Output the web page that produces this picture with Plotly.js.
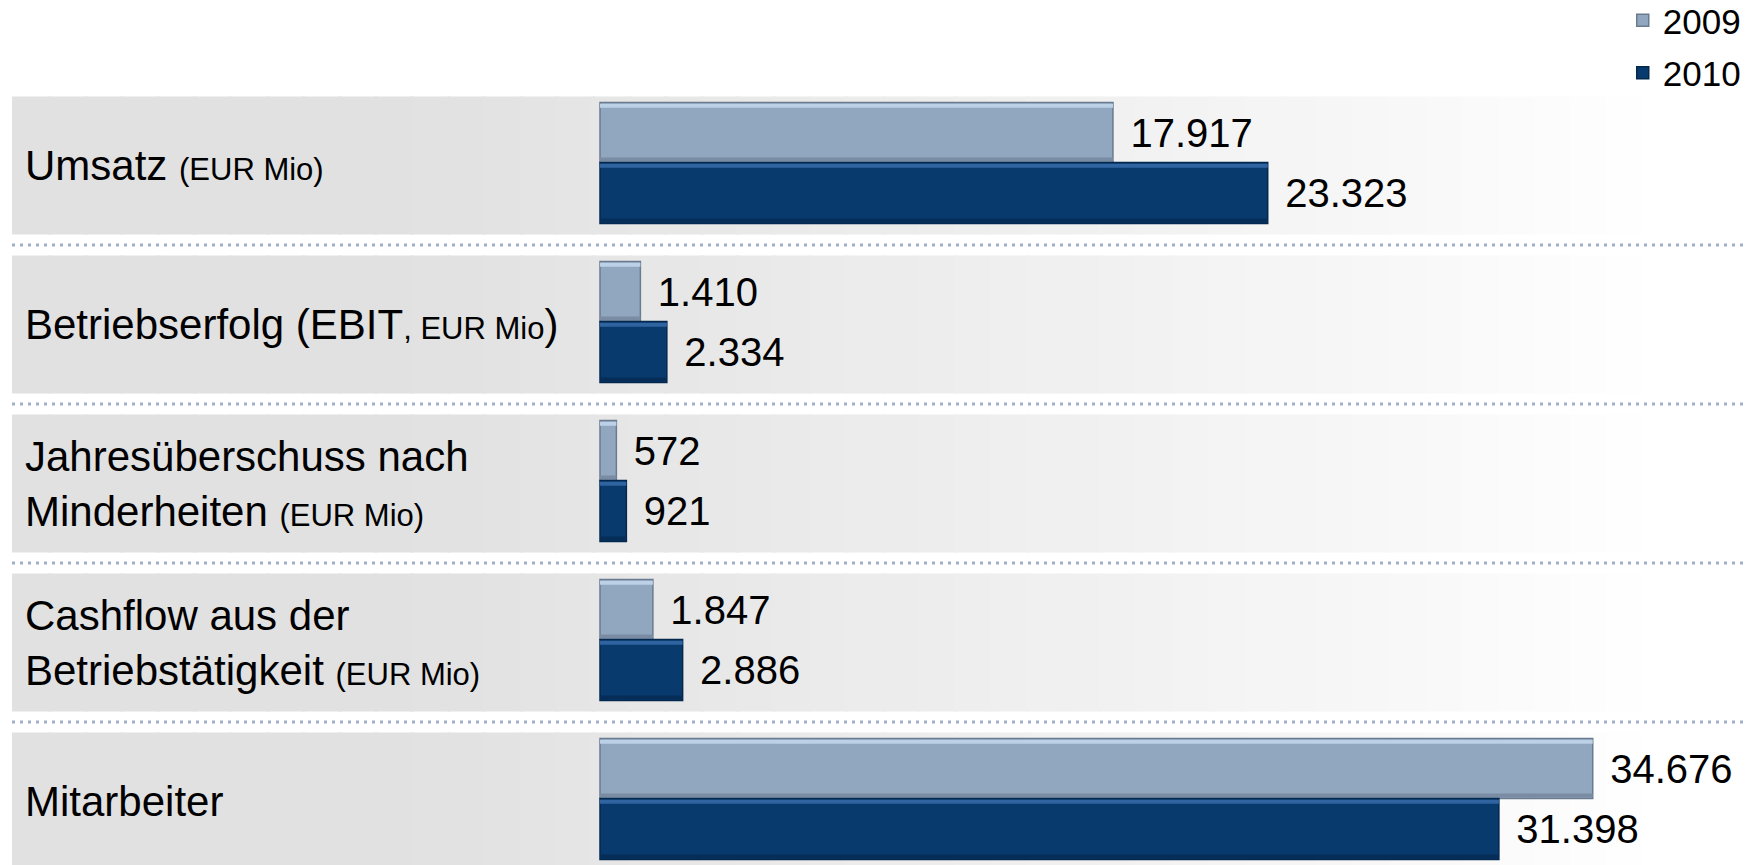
<!DOCTYPE html>
<html>
<head>
<meta charset="utf-8">
<script src="https://cdn.plot.ly/plotly-3.0.1.min.js"></script>
<style>html,body{margin:0;padding:0;background:#fff;}#chart{width:1751px;height:865px;}</style>
</head>
<body>
<div id="chart"></div>
<script>
// ---- data ----
const categories = ["umsatz", "ebit", "jue", "cashflow", "mitarbeiter"];
const categoryLabels = [
  "Umsatz <span style='font-size:31px'>(EUR Mio)</span>",
  "Betriebserfolg (EBIT<span style='font-size:31px'>, EUR Mio</span>)",
  "Jahresüberschuss nach<br>Minderheiten <span style='font-size:31px'>(EUR Mio)</span>",
  "Cashflow aus der<br>Betriebstätigkeit <span style='font-size:31px'>(EUR Mio)</span>",
  "Mitarbeiter"
];
const seriesNames = ["2009", "2010"];
const values2009 = [17917, 1410, 572, 1847, 34676];
const values2010 = [23323, 2334, 921, 2886, 31398];

// ---- styling ----
const FONT = '"Liberation Sans", Arial, sans-serif';
const lightBase = '#91a6bf', lightTop = '#bcd0e6', lightBot = '#7a8ca3', lightLine = '#6a7b90';
const darkBase = '#083a6d', darkTop = '#2f64a0', darkBot = '#052d58', darkLine = '#04284d';

const offL = -0.396, wL = 0.377;
const offD = -0.019, wD = 0.384;
const strip = 0.025;

function bar(name, vals, color, lineColor, off, w, main, group) {
  const t = {
    type: 'bar', orientation: 'h', name: name,
    x: vals, y: categories,
    offset: off, width: w,
    marker: {color: color, line: {color: lineColor, width: main ? 1.5 : 0}},
    hoverinfo: main ? 'x+name' : 'skip',
    showlegend: main, legendgroup: group,
    cliponaxis: false
  };
  if (main) {
    t.texttemplate = '\u00a0\u200a%{x:,.0f}';
    t.textposition = 'outside';
    t.constraintext = 'none';
    t.textfont = {family: FONT, size: 40, color: '#000'};
  }
  return t;
}

const traces = [
  bar(seriesNames[0], values2009, lightBase, lightLine, offL, wL, true, 'a'),
  bar(seriesNames[0], values2009, lightTop, lightTop, offL + 0.008, strip, false, 'a'),
  bar(seriesNames[0], values2009, lightBot, lightBot, offL + wL - strip - 0.006, strip, false, 'a'),
  bar(seriesNames[1], values2010, darkBase, darkLine, offD, wD, true, 'b'),
  bar(seriesNames[1], values2010, darkTop, darkTop, offD + 0.008, strip, false, 'b'),
  bar(seriesNames[1], values2010, darkBot, darkBot, offD + wD - strip - 0.006, strip, false, 'b')
];

// ---- background bands (horizontal gradient) and dotted separators ----
const W = 1751, ML = 12, PW = W - ML;
function grayAt(px) {
  let g;
  if (px <= 400) g = 225;
  else if (px <= 1500) g = 225 + 25 * (px - 400) / 1100;
  else if (px <= 1650) g = 250 + 5 * (px - 1500) / 150;
  else g = 255;
  g = Math.round(g);
  return 'rgb(' + g + ',' + g + ',' + g + ')';
}
const shapes = [];
const N = 48, half = 0.434;
categories.forEach((c, i) => {
  for (let k = 0; k < N; k++) {
    const x0 = k / N, x1 = Math.min(1, (k + 1) / N + 0.002);
    const mid = ML + PW * (k + 0.5) / N;
    shapes.push({type: 'rect', layer: 'below', xref: 'paper', yref: 'y',
      x0: x0, x1: x1, y0: i - half, y1: i + half,
      fillcolor: grayAt(mid), line: {width: 0}});
  }
  if (i < categories.length - 1) {
    shapes.push({type: 'line', layer: 'below', xref: 'paper', yref: 'y',
      x0: 0, x1: (1746 - ML) / PW, y0: i + 0.5, y1: i + 0.5,
      line: {color: '#9db0c8', width: 3, dash: '3px,5px'}});
  }
});

const annotations = categories.map((c, i) => ({
  xref: 'paper', yref: 'y', x: 0, y: c, xanchor: 'left', yanchor: 'middle',
  xshift: 11, align: 'left', showarrow: false,
  text: categoryLabels[i], font: {family: FONT, size: 42, color: '#000'}
}));

const MT = 86;
const PH = 865 - MT;
const layout = {
  width: 1751, height: 865,
  margin: {l: ML, r: 0, t: MT, b: 0, pad: 0, autoexpand: false},
  paper_bgcolor: '#ffffff', plot_bgcolor: 'rgba(0,0,0,0)',
  barmode: 'overlay',
  separators: ',.',
  font: {family: FONT, color: '#000'},
  xaxis: {range: [-20539, 40204], visible: false, fixedrange: true},
  yaxis: {type: 'category', categoryarray: categories, categoryorder: 'array',
          range: [PH / 159 - 0.5, -0.5], showticklabels: false,
          showgrid: false, zeroline: false, showline: false, ticks: ''},
  showlegend: true,
  legend: {xref: 'container', yref: 'paper', x: 0.997, xanchor: 'right',
           y: 1 + (MT + 9) / PH, yanchor: 'top', traceorder: 'grouped', tracegroupgap: 4,
           font: {family: FONT, size: 35, color: '#000'}, bgcolor: 'rgba(0,0,0,0)',
           itemwidth: 30},
  shapes: shapes,
  annotations: annotations
};

Plotly.newPlot('chart', traces, layout, {displayModeBar: false, staticPlot: true});
</script>
</body>
</html>
